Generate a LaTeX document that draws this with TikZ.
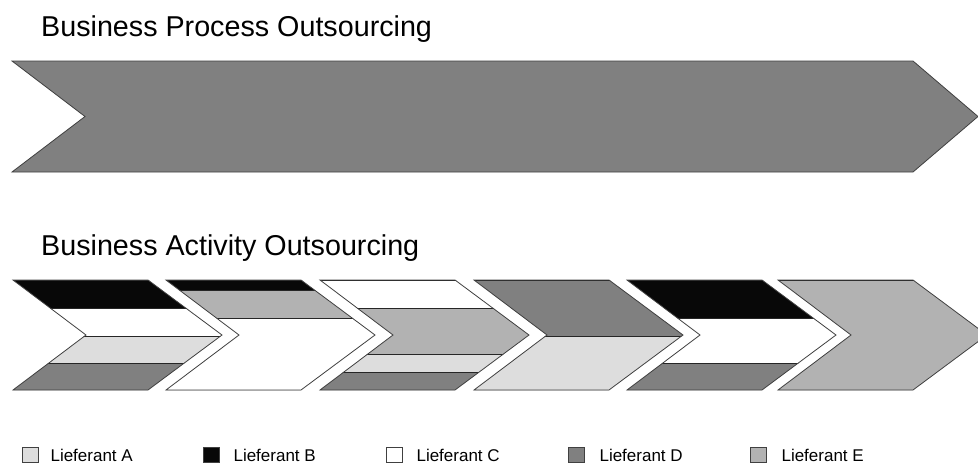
\documentclass[tikz,border=0pt]{standalone}
\usepackage{fontspec}
\setmainfont{Liberation Sans}
\usetikzlibrary{positioning}

\definecolor{liefA}{HTML}{DDDDDD}
\definecolor{liefB}{HTML}{080808}
\definecolor{liefC}{HTML}{FFFFFF}
\definecolor{liefD}{HTML}{808080}
\definecolor{liefE}{HTML}{B2B2B2}

\tikzset{
  chevline/.style={draw=black!75, line width=0.8pt},
  bandline/.style={draw=black!85, line width=0.8pt},
  title/.style={anchor=base west, inner sep=0pt, font=\fontsize{28.7}{32}\selectfont},
  legbox/.style={draw=black!75, line width=0.7pt, minimum width=16pt, minimum height=15pt, inner sep=0pt},
  legtext/.style={inner sep=0pt, font=\fontsize{17}{20}\selectfont}
}

% one small chevron, left edge at #1
\newcommand{\chevshape}[2]{\path[#2] (#1,280) -- ++(135,0) -- ++(74,55) -- ++(-74,55) -- ++(-135,0) -- ++(73,-55) -- cycle;}
% one horizontal band of a chevron
\newcommand{\band}[4]{\filldraw[bandline, fill=#4] (#1-10,#2) rectangle (#1+230,#3);}

\begin{document}
\begin{tikzpicture}[x=1pt, y=-1pt]
        \useasboundingbox (0,0) rectangle (978,464);
        \clip (0,0) rectangle (978,464);

        % The titles
        \node[title] (bpo) at (41,36) {Business Process Outsourcing};
        \node[title] (bao) at (41,255) {Business Activity Outsourcing};

        % The big arrow
        \filldraw[chevline, fill=liefD] (12,61) -- (913,61) -- (978,116.5) -- (913,172) -- (12,172) -- (85,116.5) -- cycle;

        % Chevron 1
        \begin{scope}
            \chevshape{13}{clip}
            \band{13}{280}{308}{liefB}
            \band{13}{308}{336}{liefC}
            \band{13}{336}{363}{liefA}
            \band{13}{363}{390}{liefD}
        \end{scope}
        \chevshape{13}{chevline}

        % Chevron 2
        \begin{scope}
            \chevshape{166}{clip}
            \band{166}{280}{290}{liefB}
            \band{166}{290}{318}{liefE}
            \band{166}{318}{390}{liefC}
        \end{scope}
        \chevshape{166}{chevline}

        % Chevron 3
        \begin{scope}
            \chevshape{320}{clip}
            \band{320}{280}{308}{liefC}
            \band{320}{308}{354}{liefE}
            \band{320}{354}{372}{liefA}
            \band{320}{372}{390}{liefD}
        \end{scope}
        \chevshape{320}{chevline}

        % Chevron 4
        \begin{scope}
            \chevshape{474}{clip}
            \band{474}{280}{336}{liefD}
            \band{474}{336}{390}{liefA}
        \end{scope}
        \chevshape{474}{chevline}

        % Chevron 5
        \begin{scope}
            \chevshape{627}{clip}
            \band{627}{280}{318}{liefB}
            \band{627}{318}{363}{liefC}
            \band{627}{363}{390}{liefD}
        \end{scope}
        \chevshape{627}{chevline}

        % Chevron 6
        \begin{scope}
            \chevshape{778}{clip}
            \band{778}{280}{390}{liefE}
        \end{scope}
        \chevshape{778}{chevline}

        % The legend
        \node[legbox, fill=liefA] (boxA) at (30,455) {};
        \node[legbox, fill=liefB] (boxB) at (211,455) {};
        \node[legbox, fill=liefC] (boxC) at (394,455) {};
        \node[legbox, fill=liefD] (boxD) at (576,455) {};
        \node[legbox, fill=liefE] (boxE) at (758,455) {};
        \node[legtext, right=12pt of boxA] (txtA) {Lieferant A};
        \node[legtext, right=14pt of boxB] (txtB) {Lieferant B};
        \node[legtext, right=14pt of boxC] (txtC) {Lieferant C};
        \node[legtext, right=15pt of boxD] (txtD) {Lieferant D};
        \node[legtext, right=15pt of boxE] (txtE) {Lieferant E};
\end{tikzpicture}
\end{document}
